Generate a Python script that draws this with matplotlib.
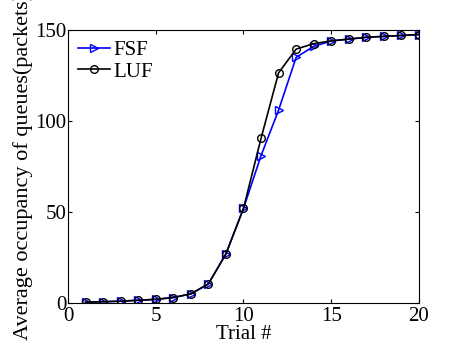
import numpy as np
import matplotlib.pyplot as plt

plt.rcParams['font.family'] = ['Liberation Serif', 'DejaVu Serif']

trial = list(range(1, 21))
fsf = [0.5, 0.7, 1.0, 1.5, 2.0, 3.0, 5.0, 10.5, 27, 52, 81, 106, 135, 141,
       144, 145, 146, 146.5, 147, 147.5]
luf = [0.5, 0.7, 1.0, 1.5, 2.0, 3.0, 5.0, 10.5, 27, 52, 90.5, 126.5, 139.5, 142.5,
       144, 145, 146, 146.5, 147, 147.5]

fig = plt.figure(figsize=(4.56, 3.5), dpi=100)
ax = fig.add_axes([68/456, 47/350, 351/456, 273/350])

ax.plot(trial, fsf, color='blue', marker='>', markersize=5.5, markerfacecolor='none',
        markeredgecolor='blue', linewidth=1.2, label='FSF')
ax.plot(trial, luf, color='black', marker='o', markersize=5.5, markerfacecolor='none',
        markeredgecolor='black', linewidth=1.2, label='LUF')

ax.set_xlim(0, 20)
ax.set_ylim(0, 150)
ax.set_xticks([0, 5, 10, 15, 20])
ax.set_yticks([0, 50, 100, 150])
ax.tick_params(direction='in', top=True, right=True, labelsize=15, length=3)
ax.tick_params(axis='x', pad=3)
ax.tick_params(axis='y', pad=1)
ax.set_xlabel('Trial #', fontsize=15, labelpad=-1)
ax.set_ylabel('Average occupancy of queues(packets)', fontsize=16, labelpad=2)
ax.legend(loc='upper left', frameon=False, fontsize=15, handlelength=1.5,
          handletextpad=0.2, labelspacing=0.1, borderaxespad=0.1)

fig.savefig('out.png', dpi=100)
